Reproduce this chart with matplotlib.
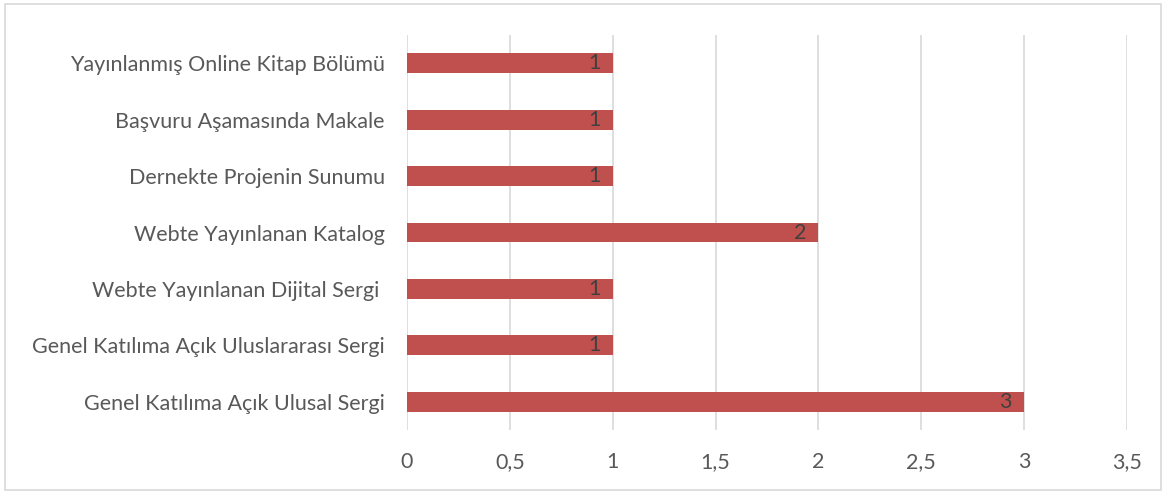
import matplotlib.pyplot as plt
from matplotlib.patches import Rectangle

categories = ["Genel Katılıma Açık Ulusal Sergi",
              "Genel Katılıma Açık Uluslararası Sergi",
              "Webte Yayınlanan Dijital Sergi ",
              "Webte Yayınlanan Katalog",
              "Dernekte Projenin Sunumu",
              "Başvuru Aşamasında Makale",
              "Yayınlanmış Online Kitap Bölümü"]
values = [3, 1, 1, 2, 1, 1, 1]
xticks = [0, 0.5, 1, 1.5, 2, 2.5, 3, 3.5]
xticklabels = ["0", "0,5", "1", "1,5", "2", "2,5", "3", "3,5"]

plt.rcParams['font.family'] = ['Lato', 'DejaVu Sans']

fig = plt.figure(figsize=(11.66, 4.94), dpi=100)
ax = fig.add_axes([407 / 1166, 64 / 494, 720 / 1166, 395 / 494])

ypos = range(len(categories))
ax.barh(ypos, values, height=0.35, color="#C0504D", zorder=3)
for y, v in zip(ypos, values):
    ax.text(v - 0.06, y, str(v), ha="right", va="center", fontsize=15.5,
            color="#404040", zorder=4)

ax.set_xlim(0, 3.5)
ax.set_ylim(-0.5, len(categories) - 0.5)
ax.set_xticks(xticks)
ax.set_xticklabels(xticklabels)
ax.set_yticks(list(ypos))
ax.set_yticklabels(categories)
ax.tick_params(axis="both", length=0, labelsize=15.5, labelcolor="#595959")
ax.tick_params(axis="x", pad=16)
ax.tick_params(axis="y", pad=16)
ax.grid(axis="x", color="#D9D9D9", linewidth=1.2, zorder=0)
for s in ax.spines.values():
    s.set_visible(False)

fig.patches.append(Rectangle((5 / 1166, 4 / 494), 1156 / 1166, 486 / 494,
                             transform=fig.transFigure, fill=False,
                             edgecolor="#D9D9D9", linewidth=1.2))

fig.savefig("out.png", dpi=100)
